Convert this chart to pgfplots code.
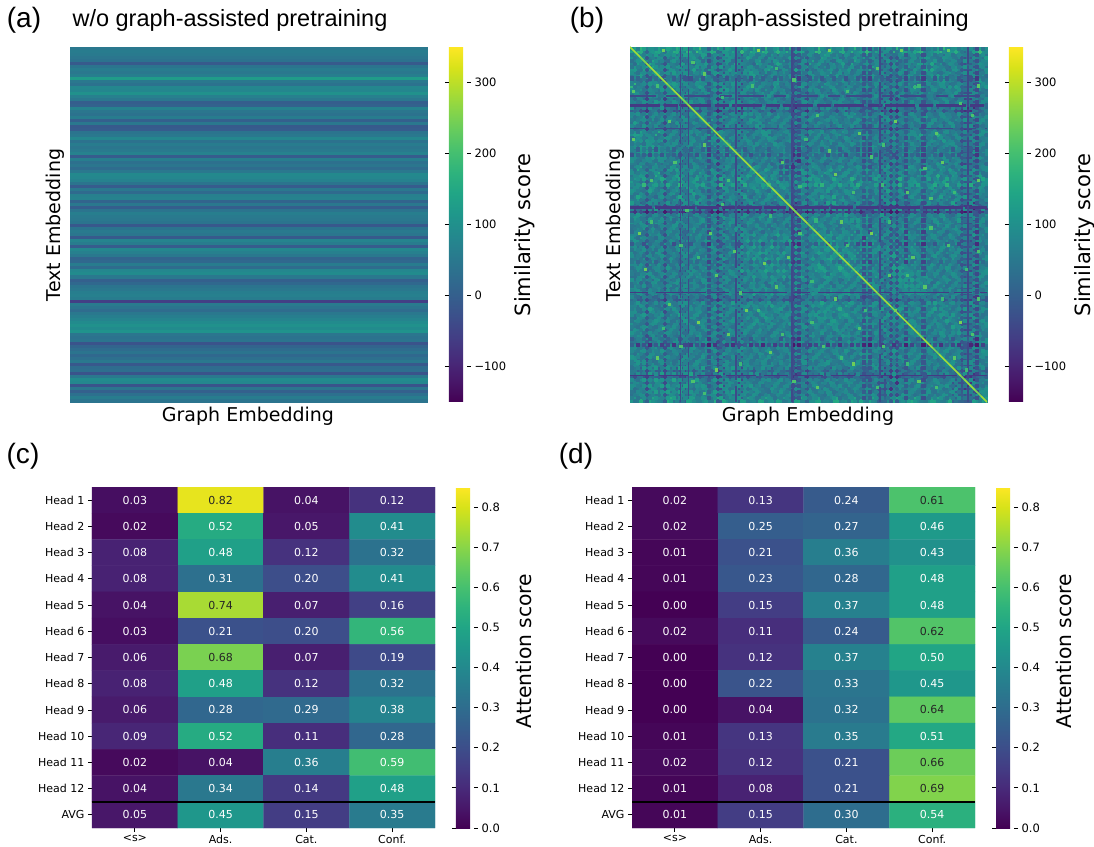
\documentclass[border=0pt]{standalone}
\usepackage{pgfplots}
\usepackage{pgfplotstable}
\pgfplotsset{compat=1.18}
\usepackage{fontspec}
\setmainfont{DejaVu Sans}
\newfontfamily\arial{Liberation Sans}
\newcommand{\fs}[1]{\fontsize{#1}{#1}\selectfont}
\definecolor{dk1}{HTML}{443A83}
\definecolor{dk2}{HTML}{3E4A89}
\definecolor{dg1}{HTML}{7AD151}
\definecolor{dg2}{HTML}{A5DB36}
\pgfplotstableread[header=false]{
50
58
54
46
38
-10
42
58
50
62
125
50
38
82
78
102
66
50
-2
6
70
46
38
58
2
50
-10
-6
42
50
82
38
58
46
54
70
-6
62
34
46
26
50
86
82
70
42
-6
50
22
66
70
10
50
-2
42
62
54
50
42
-14
42
54
46
-10
74
58
-6
82
66
50
10
18
58
26
82
90
50
2
18
42
50
62
66
58
-60
54
42
26
50
62
74
90
102
90
106
46
38
42
-22
10
26
42
18
34
50
-14
26
30
-22
50
90
82
-22
46
2
34
58
42
}\A
\pgfplotstableread[header=false]{
118 140 75 96 120 88 105 132 60 70  112 150 84 95 130 40 102 118 55 90  126 88 140 72 110 95 130 50 100 84  92 145 78 110 88 125 70 136 96 82  104 120 50 92 138 84 116 74 128 90  86 112 142 76 100 92 45 60 118 95
92 86 104 70 58 96 84 62 30 44  88 72 110 64 96 20 76 90 25 68  94 60 78 102 50 72 66 15 84 98  70 56 112 66 90 48 84 72 58 106  80 44 25 68 54 96 72 88 50 64  100 70 48 92 66 80 15 24 76 58
74 108 88 122 66 50 92 70 22 36  60 94 78 50 84 12 98 62 18 76  58 110 70 48 88 104 62 10 72 56  118 80 64 42 96 74 52 120 68 84  46 90 18 72 100 58 82 60 110 44  72 54 96 68 88 40 10 30 64 86
100 64 112 120 72 88 56 98 28 20  76 52 92 104 60 25 70 84 10 96  70 82 54 116 66 50 92 22 60 108  74 48 90 86 62 100 76 44 92 60  112 78 30 54 82 68 96 50 76 102  60 88 72 44 98 74 20 18 90 52
66 90 72 100 110 94 60 74 35 16  92 68 50 84 110 18 56 96 24 62  88 46 102 70 58 92 48 8 96 74  52 66 84 110 70 44 90 64 78 98  56 72 12 96 60 86 50 104 62 70  84 48 66 100 54 78 14 26 70 94
84 56 96 68 90 108 82 60 14 42  54 106 72 66 48 30 88 64 16 80  64 92 60 44 96 70 84 20 58 76  100 72 46 88 54 76 60 98 70 48  86 62 28 70 92 44 74 66 96 50  72 94 52 68 82 60 22 12 84 66
142 78 62 88 74 96 100 104 40 30  70 84 100 58 76 16 62 90 6 72  96 56 80 62 108 48 66 14 92 64  80 58 104 70 92 62 46 84 56 76  64 100 24 82 48 70 92 58 72 88  54 76 96 50 64 90 30 8 62 78
70 94 58 76 52 68 82 100 26 10  86 48 62 94 66 12 78 54 20 88  52 70 98 56 74 90 44 4 78 60  68 92 56 44 80 66 98 50 84 62  78 46 16 60 86 72 54 90 44 68  92 62 50 78 70 48 12 22 86 54
60 82 48 74 58 90 64 42 70 10  72 56 88 40 78 0 66 50 -5 76  58 84 46 70 90 54 74 -10 64 48  80 52 76 66 44 86 62 74 42 68  56 78 5 60 82 46 70 54 88 50  74 44 66 82 58 72 0 -5 78 54
78 60 88 54 96 70 58 80 -10 70  66 92 48 72 58 4 84 62 12 74  90 52 68 84 46 78 60 2 70 96  54 82 62 48 86 60 72 94 50 68  84 58 10 76 64 90 48 70 82 56  66 88 60 44 72 96 8 14 58 80
30 60 15 48 72 22 54 10 -5 -10  58 32 74 46 18 -15 64 28 -20 50  20 68 34 56 12 70 42 -25 60 26  66 16 52 76 36 58 10 62 48 24  70 30 -18 54 20 64 46 14 74 38  56 22 68 32 52 16 -22 -26 60 44
86 66 104 72 58 92 76 60 18 32  90 72 90 56 74 10 92 66 22 80  60 96 54 78 90 62 70 8 86 58  76 94 64 52 88 72 56 102 68 84  60 78 14 90 66 52 84 72 56 94  70 60 88 76 54 82 16 6 72 64
58 88 70 96 64 48 98 54 30 14  60 90 76 110 52 20 66 88 8 56  102 70 48 94 66 80 54 12 62 90  72 50 86 68 96 54 78 60 92 46  88 56 22 68 94 70 50 86 64 76  96 52 74 62 90 58 6 20 84 70
74 48 82 56 38 68 60 46 15 0  54 76 70 42 64 -5 50 72 0 44  66 40 58 74 34 56 70 -8 46 62  42 68 52 36 78 48 64 40 72 54  44 66 2 52 70 38 60 48 76 42  58 74 36 64 50 42 -10 -2 56 68
92 112 64 84 130 74 58 88 22 36  72 96 56 110 104 86 72 60 14 92  64 80 100 52 72 90 60 10 76 56  92 66 48 84 70 100 54 76 64 88  52 80 18 64 92 74 56 88 70 50  82 66 94 58 76 60 24 12 70 92
68 82 54 92 70 106 84 60 10 28  86 60 76 100 95 100 96 90 24 70  88 56 72 96 64 48 84 6 92 68  60 78 96 54 82 66 88 48 72 94  76 58 20 84 56 70 92 62 50 86  74 90 56 68 84 72 14 20 66 78
80 60 96 72 54 82 66 94 32 18  64 88 58 92 105 100 110 95 78 90  56 74 92 60 86 70 52 16 66 94  84 58 70 92 50 76 62 90 80 54  68 96 12 58 74 88 52 70 92 62  54 80 66 96 60 48 8 26 88 60
56 98 70 50 88 64 92 72 14 26  92 58 84 76 95 105 100 100 86 60  98 66 54 80 72 92 60 4 84 56  72 96 50 78 66 88 56 70 94 60  82 52 24 76 88 60 70 96 54 84  62 92 48 70 88 56 18 10 72 90
90 70 58 84 66 96 54 78 26 12  74 96 60 88 62 90 100 95 92 76  50 88 72 58 94 66 80 14 60 78  96 54 84 68 60 92 74 52 86 70  58 90 16 68 50 94 76 60 82 56  88 64 74 54 92 70 26 6 60 82
72 54 86 62 100 50 76 90 4 16  50 72 44 66 86 50 70 60 70 58  76 48 62 90 54 70 44 -10 66 82  46 74 60 38 78 56 42 84 66 52  70 44 8 88 58 40 72 54 66 80  48 60 84 42 70 56 -2 10 52 74
84 118 72 92 60 80 104 58 32 42  96 68 88 54 78 34 92 74 28 100  110 86 60 94 72 56 98 18 80 64  100 76 54 90 68 108 62 84 96 58  76 102 26 70 88 64 110 78 56 92  68 84 102 60 78 94 30 22 76 86
60 86 100 66 128 74 56 88 20 30  70 112 54 86 104 20 60 96 16 72  110 94 70 56 88 102 64 6 94 72  60 86 110 66 52 84 96 68 56 92  84 66 14 102 76 56 88 70 96 58  90 72 60 88 104 50 12 24 92 60
104 70 82 56 94 112 68 76 36 24  88 60 98 74 56 26 84 66 30 92  72 100 86 106 60 74 92 16 56 88  76 104 62 80 96 54 72 110 84 66  96 58 20 74 100 84 60 92 72 88  56 106 76 64 86 98 22 14 70 96
66 92 58 108 72 54 96 64 16 38  76 100 62 88 70 14 98 58 22 66  90 68 110 78 56 92 72 8 98 62  86 60 72 100 74 88 56 66 104 58  72 88 18 60 84 70 98 56 78 64  102 54 88 70 60 84 16 26 58 90
88 56 76 92 60 86 70 100 28 20  54 84 70 60 92 32 66 82 12 94  62 80 56 110 88 66 54 20 82 70  56 90 66 52 86 74 92 60 70 84  54 96 24 88 60 76 52 84 68 94  60 72 90 56 76 64 10 28 96 68
74 100 64 54 88 72 58 94 12 26  96 56 82 70 62 18 90 74 26 58  84 100 66 90 100 74 88 12 60 96  70 54 88 76 58 92 66 80 52 90  78 62 16 92 70 56 86 64 96 60  82 70 54 94 62 88 24 8 74 56
68 32 80 52 18 70 44 84 5 -8  76 26 62 48 82 0 58 34 -2 70  20 78 50 24 66 84 80 -22 56 30  72 46 16 80 54 36 68 22 76 50  28 64 -10 74 32 60 14 82 48 26  70 38 58 74 20 52 -12 -18 66 44
6 42 -8 20 -16 38 0 14 -32 -40  26 -4 40 -14 12 -34 2 36 -40 -6  18 -18 34 4 -10 22 -30 -42 -2 32  -12 16 -22 24 -4 10 -16 38 6 -8  20 2 -36 -14 34 -2 -20 14 28 -10  8 -26 22 -6 16 0 -44 -38 18 -4
70 92 56 84 66 100 54 78 22 30  88 58 76 102 60 36 82 64 24 94  56 72 96 62 84 54 70 -5 100 82  64 92 58 74 100 56 84 68 50 88  72 60 12 96 54 80 64 92 74 58  86 68 100 54 72 84 8 20 60 94
94 62 76 54 104 70 88 56 34 14  66 92 54 80 96 22 68 90 16 60  102 84 58 76 92 66 48 10 88 100  80 56 96 70 60 88 72 54 94 76  58 100 20 68 84 56 92 60 76 86  54 78 96 66 82 50 18 12 84 64
56 84 102 66 60 86 72 98 18 32  78 54 90 66 74 30 94 56 20 84  70 60 84 98 56 78 92 14 62 72  100 94 72 56 92 66 54 88 74 60  96 72 28 84 64 92 70 56 88 60  76 92 54 72 90 66 12 26 96 58
82 70 54 92 76 52 96 64 26 22  100 72 60 84 56 18 74 92 12 66  88 54 74 60 96 70 84 18 92 56  76 100 88 106 70 98 80 114 92 76  84 110 34 96 72 88 106 76 92 84  70 96 80 58 74 88 20 14 66 92
64 96 78 60 88 70 58 84 14 40  56 88 74 98 66 28 60 82 22 92  58 76 90 54 72 96 60 4 80 66  92 74 110 90 112 84 100 78 96 118  74 92 36 80 104 70 96 84 72 100  92 60 76 94 54 70 24 8 88 60
76 54 90 72 62 98 80 56 24 16  84 66 52 92 78 14 88 70 8 56  92 66 58 84 70 52 96 20 68 88  54 106 84 110 96 76 120 92 70 88  112 68 28 100 84 94 74 108 80 66  56 84 92 68 96 76 16 22 60 80
92 66 58 84 96 56 70 88 12 28  60 94 70 56 84 32 52 96 18 74  66 88 100 54 76 60 82 12 56 92  70 92 106 84 110 104 80 96 112 74  90 102 30 76 110 86 68 96 88 104  76 54 70 92 60 88 10 18 76 54
58 78 94 52 74 88 56 70 30 20  76 52 92 66 60 24 84 58 26 96  54 70 62 92 56 84 74 6 96 60  84 66 88 110 92 110 88 112 74 100  84 68 38 108 76 96 114 70 88 76  94 62 52 78 100 66 28 12 64 90
86 60 72 100 54 66 92 60 16 36  92 70 58 84 96 16 72 94 10 58  80 96 56 70 90 62 52 16 84 72  60 88 72 98 76 104 110 92 84 108  72 94 26 90 114 68 84 100 76 92  60 86 94 56 72 84 14 24 92 66
70 92 56 76 88 52 84 74 22 14  54 82 96 60 72 36 56 86 24 70  64 52 88 94 66 78 92 10 58 96  72 114 96 84 92 118 90 110 112 76  98 84 32 70 96 110 78 88 104 72  84 56 70 96 60 52 20 6 70 86
54 84 100 62 68 94 56 90 28 34  70 96 64 52 88 22 94 66 14 84  58 76 92 60 82 70 56 22 90 64  88 70 84 108 74 92 100 80 110 96  76 110 24 84 70 102 92 74 82 98  64 92 58 76 88 70 12 30 56 94
56 96 80 46 102 70 52 90 48 30  86 58 98 72 42 36 92 64 24 78  100 54 76 88 48 94 66 16 82 54  96 72 58 90 78 44 100 70 52 90  94 46 14 84 68 98 50 86 74 58  92 52 80 96 64 48 12 20 88 70
90 64 54 86 72 60 98 52 30 18  84 62 76 92 56 30 70 88 20 54  92 74 56 84 62 96 70 18 86 60  74 92 68 96 84 100 72 94 84 76  100 90 34 88 104 76 96 82 70 92  56 74 96 60 84 54 22 16 82 60
62 92 74 58 96 80 56 84 16 24  56 90 68 54 96 18 84 60 12 92  70 54 88 72 56 92 84 8 66 92  56 88 74 114 70 92 108 84 96 60  82 100 24 100 76 92 84 70 96 108  88 62 54 90 72 66 10 24 60 96
50 24 70 34 58 18 66 28 10 -4  54 36 20 62 30 6 46 26 -8 68  22 48 32 64 26 52 16 -12 58 28  38 60 24 48 18 64 30 56 20 12  50 26 70 34 52 20 58 32 44 22  56 32 64 28 38 60 -6 -10 46 24
76 58 90 66 54 84 72 60 26 38  92 70 54 78 96 34 66 54 22 88  60 96 72 58 84 66 56 16 92 76  62 84 100 90 76 94 112 78 92 70  96 86 22 100 92 78 100 84 66 94  58 84 72 96 60 78 20 8 90 64
88 54 72 100 62 94 58 76 14 22  68 84 60 92 54 14 88 76 10 60  94 56 84 70 96 54 78 10 62 88  72 56 84 70 102 86 74 92 66 88  72 94 28 92 100 104 86 70 92 76  98 56 64 92 76 54 14 20 58 92
56 96 84 58 70 52 90 66 32 18  96 60 78 52 84 26 58 92 30 72  56 88 66 92 52 76 94 20 74 56  90 60 96 84 62 108 88 74 92 56  86 66 40 78 100 100 92 70 84 96  64 88 100 54 70 94 24 10 76 60
94 70 56 84 92 66 54 88 18 30  60 76 92 66 58 22 94 70 16 56  84 62 96 54 88 70 60 6 88 72  56 92 70 104 84 72 96 62 88 104  76 92 18 96 84 74 100 92 62 86  72 54 84 92 66 60 18 28 94 70
60 84 98 54 76 88 62 72 24 12  88 54 72 94 66 32 56 84 26 92  66 74 56 84 64 92 52 14 70 96  60 76 88 62 96 70 54 86 72 60  92 70 30 60 76 88 64 100 90 76  56 92 70 60 84 96 6 22 56 88
78 92 60 70 54 96 84 58 36 26  72 94 58 70 86 12 92 64 14 76  52 90 72 60 96 56 84 24 54 80  94 66 52 88 70 60 92 74 56 96  62 84 24 94 70 56 88 72 100 92  80 60 92 54 76 70 12 16 88 62
52 72 90 84 60 72 56 94 20 40  54 86 96 60 76 28 62 90 22 54  92 70 84 58 72 96 60 8 94 66  72 88 60 54 92 80 72 58 92 70  54 96 34 70 88 62 94 56 70 100  94 72 56 88 60 84 28 6 70 94
84 60 76 56 96 64 92 70 14 18  92 66 54 88 62 20 78 58 10 94  60 84 66 96 54 78 92 18 56 84  60 98 72 90 56 76 62 92 84 54  72 60 16 88 56 92 70 84 62 76  100 86 60 74 92 66 22 14 84 56
70 96 58 90 66 84 54 78 30 24  60 78 92 56 74 34 90 72 28 62  86 54 92 70 60 84 56 12 96 70  54 84 62 72 94 60 88 54 70 92  84 62 26 56 94 70 60 92 76 54  86 100 94 60 70 88 8 22 66 92
92 54 84 70 52 96 72 60 12 34  84 56 70 96 58 16 54 92 18 70  56 96 72 54 88 62 84 6 70 52  92 66 88 56 76 94 60 72 56 88  60 90 18 94 72 56 84 66 92 70  54 82 100 88 60 74 16 26 92 58
58 90 66 54 88 70 96 52 26 16  70 92 60 84 54 24 94 66 8 84  70 60 84 92 56 72 62 16 90 64  72 54 96 70 60 84 92 54 74 96  66 54 28 70 84 92 56 76 60 84  94 68 60 100 84 54 10 18 60 88
64 32 74 54 28 80 48 20 16 2  70 42 26 66 50 10 76 32 6 58  36 68 52 24 72 46 30 -6 60 76  34 64 50 22 70 54 32 74 44 28  66 38 0 56 74 30 62 46 26 70  48 60 34 68 70 52 -4 2 64 36
43 55 19 49 33 11 57 37 5 -5  23 51 35 13 59 -1 43 29 -3 55  39 15 49 31 21 53 37 -15 59 17  45 35 11 55 23 47 33 15 53 39  19 57 -11 35 49 11 55 29 43 15  51 37 21 57 33 55 -21 -17 39 53
64 88 54 72 92 60 84 70 14 30  90 66 58 84 70 16 56 88 6 62  76 54 92 64 84 56 70 4 66 92  60 78 84 56 90 66 72 92 58 84  56 76 10 88 60 78 92 54 68 90  62 82 56 72 18 16 40 -20 70 88
90 60 78 56 88 54 72 96 22 16  62 84 96 54 76 8 94 60 12 88  56 90 70 52 76 92 58 14 84 56  92 62 54 88 72 56 96 70 84 52  90 62 24 56 76 94 60 84 70 56  92 60 88 54 24 12 -16 40 60 78
54 76 94 64 58 96 60 84 30 40  72 56 88 70 92 26 76 58 20 94  64 84 56 92 60 74 88 22 56 90  70 84 60 96 54 80 62 88 70 96  60 84 30 92 66 54 88 72 60 92  56 84 70 96 30 26 14 8 100 88
100 70 62 120 84 68 130 58 38 28  110 72 90 64 128 36 96 74 30 110  80 62 118 88 70 104 66 24 122 76  90 112 66 84 124 72 96 118 64 86  116 76 40 92 118 80 70 126 84 64  98 120 72 86 36 44 30 28 92 110
}\M
\pgfplotsset{
  hm/.style={
    scale only axis, anchor=south west, clip=true,
    colormap name=viridis,
    axis line style={draw=none},
    tick style={black,line width=0.8pt},
    major tick length=4pt,
    tick align=outside,
    tick label style={font=\fs{11.5}},
    enlargelimits=false,
    y dir=reverse,
  },
  cb1/.style={
    colorbar,
    colorbar style={
      scale only axis, at={(1.0616,0)}, anchor=south west,
      width=18pt, height=355pt,
      ytick={-100,0,100,200,300},
      yticklabels={−100,0,100,200,300},
      yticklabel style={font=\fs{11.5}},
      axis line style={draw=none},
      tick style={black,line width=0.8pt},
      major tick length=4pt,
      tick align=outside,
    },
  },
  cb2/.style={
    colorbar,
    colorbar style={
      scale only axis, at={(1.0612,0)}, anchor=south west,
      width=18pt, height=341pt,
      ytick={0,0.1,0.2,0.3,0.4,0.5,0.6,0.7,0.8},
      yticklabels={0.0,0.1,0.2,0.3,0.4,0.5,0.6,0.7,0.8},
      yticklabel style={font=\fs{11.5}},
      axis line style={draw=none},
      tick style={black,line width=0.8pt},
      major tick length=4pt,
      tick align=outside,
    },
  },
  ch/.style={
    hm, cb2, width=343pt, height=341pt,
    point meta min=0, point meta max=0.85,
    xmin=-0.5, xmax=3.5, ymin=-0.5, ymax=12.5,
    xtick={0,1,2,3}, xticklabels={<s>,Ads.,Cat.,Conf.},
    ytick={0,...,12},
    yticklabels={Head 1,Head 2,Head 3,Head 4,Head 5,Head 6,Head 7,Head 8,Head 9,Head 10,Head 11,Head 12,AVG},
    xtick pos=lower, xticklabel pos=lower, ytick pos=left,
    tick label style={font=\fs{11}},
  },
  lab/.style={
    only marks, mark=none, point meta=explicit,
    nodes near coords={\pgfmathprintnumber[fixed,fixed zerofill,precision=2,assume math mode=true]{\pgfplotspointmeta}},
    every node near coord/.append style={anchor=center,inner sep=0pt,font=\fs{11},text=#1},
  },
  sq/.style={
    scatter, only marks, mark=square*, mark size=#1, scatter src=explicit,
    scatter/use mapped color={draw=mapped color,fill=mapped color},
    mark options={line width=0.1pt},
  },
}
\newcommand{\cellplots}[1]{%
  \addplot[matrix plot*, mesh/cols=4, point meta=explicit] table[x=x,y=y,meta=v]{#1};
  \addplot[lab=white, restrict expr to domain={\thisrow{v}}{-1:0.595}] table[x=x,y=y,meta=v]{#1};
  \addplot[lab=black!85, restrict expr to domain={\thisrow{v}}{0.595:1}] table[x=x,y=y,meta=v]{#1};
  \addplot[black, line width=1.6pt] coordinates {(-0.5,11.5) (3.5,11.5)};
}
\pgfplotstableread{
x y v
0 0 0.03
1 0 0.82
2 0 0.04
3 0 0.12
0 1 0.02
1 1 0.52
2 1 0.05
3 1 0.41
0 2 0.08
1 2 0.48
2 2 0.12
3 2 0.32
0 3 0.08
1 3 0.31
2 3 0.20
3 3 0.41
0 4 0.04
1 4 0.74
2 4 0.07
3 4 0.16
0 5 0.03
1 5 0.21
2 5 0.20
3 5 0.56
0 6 0.06
1 6 0.68
2 6 0.07
3 6 0.19
0 7 0.08
1 7 0.48
2 7 0.12
3 7 0.32
0 8 0.06
1 8 0.28
2 8 0.29
3 8 0.38
0 9 0.09
1 9 0.52
2 9 0.11
3 9 0.28
0 10 0.02
1 10 0.04
2 10 0.36
3 10 0.59
0 11 0.04
1 11 0.34
2 11 0.14
3 11 0.48
0 12 0.05
1 12 0.45
2 12 0.15
3 12 0.35
}\C
\pgfplotstableread{
x y v
0 0 0.02
1 0 0.13
2 0 0.24
3 0 0.61
0 1 0.02
1 1 0.25
2 1 0.27
3 1 0.46
0 2 0.01
1 2 0.21
2 2 0.36
3 2 0.43
0 3 0.01
1 3 0.23
2 3 0.28
3 3 0.48
0 4 0.00
1 4 0.15
2 4 0.37
3 4 0.48
0 5 0.02
1 5 0.11
2 5 0.24
3 5 0.62
0 6 0.00
1 6 0.12
2 6 0.37
3 6 0.50
0 7 0.00
1 7 0.22
2 7 0.33
3 7 0.45
0 8 0.00
1 8 0.04
2 8 0.32
3 8 0.64
0 9 0.01
1 9 0.13
2 9 0.35
3 9 0.51
0 10 0.02
1 10 0.12
2 10 0.21
3 10 0.66
0 11 0.01
1 11 0.08
2 11 0.21
3 11 0.69
0 12 0.01
1 12 0.15
2 12 0.30
3 12 0.54
}\D
\begin{document}
\begin{tikzpicture}[x=1pt,y=1pt]
\path[use as bounding box] (0,0) rectangle (1094,846);
% (a)
\begin{axis}[hm, cb1, at={(70pt,444pt)}, width=357pt, height=355pt,
  point meta min=-150, point meta max=350,
  xmin=-1, xmax=1, ymin=-0.5, ymax=117.5, xtick=\empty, ytick=\empty]
\addplot[sq=1.6pt, mark options={xscale=111.5,line width=0.1pt}] table[x index=0, y index=0, x expr=0, y expr=\coordindex, meta index=0]{\A};
\end{axis}
% (b)
\begin{axis}[hm, cb1, at={(630pt,444pt)}, width=357pt, height=355pt,
  clip mode=individual,
  colorbar style={ytick={-31.25,31.25,93.75,156.25,218.75}},
  point meta min=-62.5, point meta max=250,
  xmin=-0.5, xmax=59.5, ymin=-0.5, ymax=59.5, xtick=\empty, ytick=\empty]
\pgfplotsinvokeforeach{0,...,59}{
\addplot[sq=3.03pt] table[x expr=#1, y expr=\coordindex, meta index=#1]{\M};
}
% finer tiles within each cell, from the same estimated rows
\pgfplotsinvokeforeach{0,...,59}{
\pgfmathtruncatemacro\colshift{mod(#1+13,60)}
\addplot[sq=1.52pt] table[x expr=#1+0.25, y expr=\coordindex+0.25, meta index=\colshift]{\M};
\pgfmathtruncatemacro\colshift{mod(#1+29,60)}
\addplot[sq=1.52pt] table[x expr=#1-0.25, y expr={mod(\coordindex+23,60)-0.25}, meta index=\colshift]{\M};
}
% thin dark rows
\addplot[dk1, line width=2.6pt, dash pattern=on 22pt off 3pt on 40pt off 2pt] coordinates {(-0.5,26.6) (59.5,26.6)};
\addplot[dk1, line width=2.4pt, dash pattern=on 30pt off 4pt on 14pt off 3pt] coordinates {(-0.5,9.4) (59.5,9.4)};
\addplot[dk1, line width=1.5pt, dash pattern=on 18pt off 8pt on 50pt off 5pt] coordinates {(-0.5,41) (59.5,41)};
\addplot[dk2, line width=1.5pt, dash pattern=on 26pt off 10pt on 12pt off 6pt] coordinates {(-0.5,7.8) (59.5,7.8)};
\addplot[dk2, line width=1.5pt, dash pattern=on 16pt off 9pt on 34pt off 7pt] coordinates {(-0.5,13.3) (59.5,13.3)};
\addplot[dk1, line width=1.6pt, dash pattern=on 24pt off 5pt on 30pt off 8pt] coordinates {(-0.5,55) (59.5,55)};
% thin dark columns
\addplot[dk2, line width=1.5pt, dash pattern=on 20pt off 7pt on 44pt off 6pt] coordinates {(8,-0.5) (8,59.5)};
\addplot[dk2, line width=1.5pt, dash pattern=on 34pt off 9pt on 15pt off 5pt] coordinates {(9.3,-0.5) (9.3,59.5)};
\addplot[dk2, line width=1.5pt, dash pattern=on 25pt off 6pt on 36pt off 10pt] coordinates {(17.3,-0.5) (17.3,59.5)};
\addplot[dk2, line width=1.8pt, dash pattern=on 42pt off 8pt on 19pt off 4pt] coordinates {(26.7,-0.5) (26.7,59.5)};
\addplot[dk2, line width=1.5pt, dash pattern=on 28pt off 7pt on 24pt off 9pt] coordinates {(41.5,-0.5) (41.5,59.5)};
\addplot[dk2, line width=1.8pt, dash pattern=on 17pt off 6pt on 37pt off 8pt] coordinates {(56.3,-0.5) (56.3,59.5)};
% bright specks
\addplot[sq=1.1pt] coordinates {
(3,22)[162](12,4)[175](5,0)[181](21,0)[194](33,0)[187](45,0)[181](53,0)[175]
(6,12)[169](20,6)[156](24,3)[150](31,11)[162](38,14)[175](44,12)[181](51,14)[169](57,11)[162]
(9,27)[162](13,31)[175](17,34)[169](22,36)[181](28,31)[162](35,29)[175](40,31)[187](47,35)[169](53,33)[162]
(2,37)[181](6,43)[169](11,46)[187](16,48)[175](19,44)[181](24,40)[169](30,46)[156](34,42)[175](38,47)[162]
(44,44)[181](49,40)[169](55,46)[187](4,52)[175](10,56)[162](14,54)[181](23,51)[175](31,57)[169](37,53)[181]
(42,50)[162](48,56)[175](54,52)[169](58,42)[162](1,31)[181](0,15)[175](0,7)[169](58,6)[169](58,22)[175](58,34)[162]
(7,19)[162](12,16)[175](16,22)[156](25,19)[169](28,23)[150](34,21)[181](40,18)[162](46,24)[169](52,19)[175]
(8,33)[156](14,38)[169](26,35)[175](30,39)[150](36,33)[156](43,38)[169](50,30)[162](56,37)[150]
(4,6)[156](10,2)[162](15,8)[150](27,5)[162](36,7)[156](41,3)[169](48,6)[150](55,9)[162](29,15)[150](33,17)[169]
(42,16)[156](49,20)[162](54,24)[150](3,29)[156](11,35)[150](18,41)[162](21,44)[150](25,48)[156](32,50)[162]
(39,44)[150](46,38)[156](52,42)[150](57,48)[162](5,47)[150](8,50)[162](12,58)[156](18,53)[150](27,56)[162](35,52)[150]
(41,57)[156](46,53)[150](51,57)[156](56,54)[150](15,26)[156](23,28)[150](37,24)[156](43,29)[150](50,25)[162]
};
% diagonal
\addplot[dg1, line width=1.7pt] coordinates {(-0.5,-0.5) (59.5,59.5)};
\addplot[dg2, line width=1.1pt, dash pattern=on 14pt off 9pt on 30pt off 6pt] coordinates {(-0.5,-0.5) (59.5,59.5)};
\end{axis}
% (c)
\begin{axis}[ch, at={(92pt,18pt)}]
\cellplots{\C}
\end{axis}
% (d)
\begin{axis}[ch, at={(632pt,18pt)}]
\cellplots{\D}
\end{axis}
% texts
\node[font=\arial\fs{28}] at (24,826) {(a)};
\node[font=\arial\fs{28}] at (587,826) {(b)};
\node[font=\arial\fs{28}] at (23,390) {(c)};
\node[font=\arial\fs{28}] at (576,390) {(d)};
\node[font=\arial\fs{23.5}] at (230,826) {w/o graph-assisted pretraining};
\node[font=\arial\fs{23.5}] at (818,826) {w/ graph-assisted pretraining};
\node[font=\fs{19}] at (248,430) {Graph Embedding};
\node[font=\fs{19}] at (808,430) {Graph Embedding};
\node[font=\fs{19},rotate=90] at (55,621) {Text Embedding};
\node[font=\fs{19},rotate=90] at (615,621) {Text Embedding};
\node[font=\fs{21},rotate=90] at (525,611) {Similarity score};
\node[font=\fs{21},rotate=90] at (1085,611) {Similarity score};
\node[font=\fs{20.3},rotate=90] at (524,195) {Attention score};
\node[font=\fs{20.3},rotate=90] at (1064,195) {Attention score};
\end{tikzpicture}
\end{document}
